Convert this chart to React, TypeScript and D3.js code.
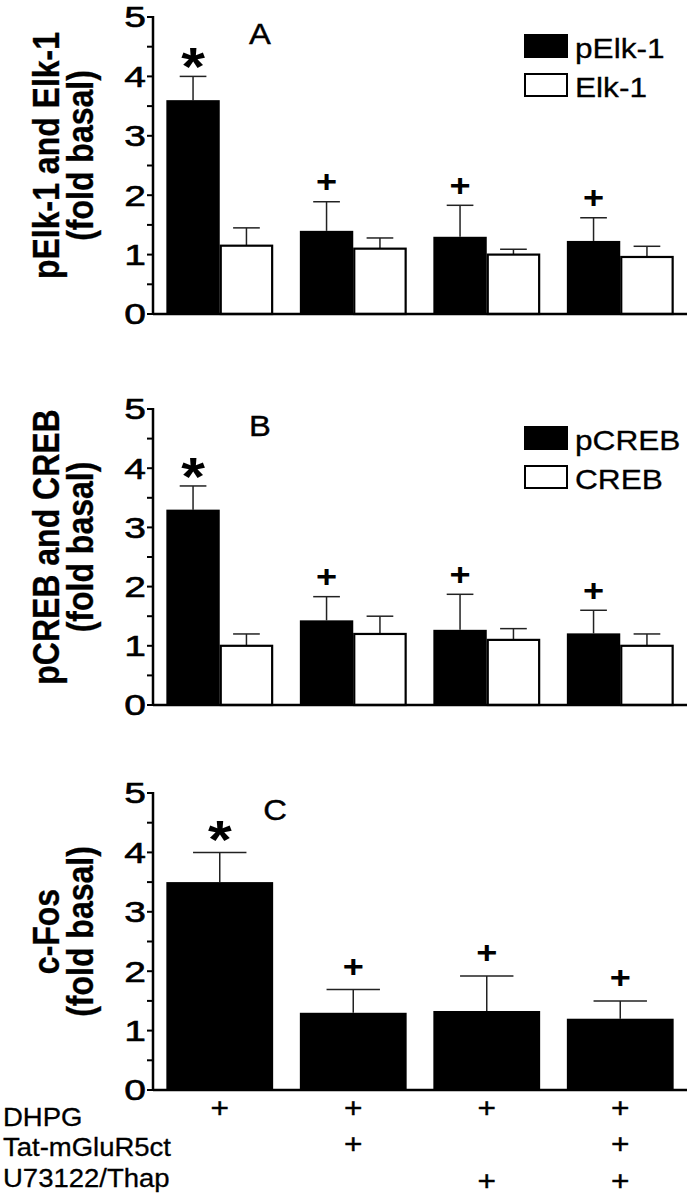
import * as d3 from "d3";

// groups along the x axis (treatment combinations)
const groups = ["g1", "g2", "g3", "g4"];

// panel A
const pElk = [3.6, 1.4, 1.3, 1.23];
const pElkErr = [0.4, 0.49, 0.53, 0.39];
const elk = [1.15, 1.1, 1.0, 0.96];
const elkErr = [0.3, 0.18, 0.09, 0.18];

// panel B
const pCreb = [3.3, 1.43, 1.27, 1.21];
const pCrebErr = [0.4, 0.4, 0.6, 0.39];
const creb = [1.0, 1.2, 1.1, 1.0];
const crebErr = [0.2, 0.3, 0.19, 0.2];

// panel C
const cFos = [3.5, 1.3, 1.33, 1.2];
const cFosErr = [0.5, 0.39, 0.59, 0.3];

const marks = ["*", "+", "+", "+"];

const treatments = ["DHPG", "Tat-mGluR5ct", "U73122/Thap"];
const treatmentOn = [
  [true, true, true, true],
  [false, true, false, true],
  [false, false, true, true],
];

const yTicks = d3.range(0, 5.01, 0.5);

const FONT = "'Liberation Sans', Arial, Helvetica, sans-serif";
const X0 = 153;
const X1 = 687;
const SX = 1.13;

const x = d3.scaleBand<string>().domain(groups).range([X0, X1]).paddingInner(0.2).paddingOuter(0.1);

type Series = { name: string; values: number[]; err: number[]; fill: string };

function Panel(props: {
  top: number;
  bottom: number;
  series: Series[];
  title: string[];
  letter: string;
  letterX: number;
  legend: boolean;
}) {
  const { top, bottom, series, title, letter, letterX, legend } = props;
  const y = d3.scaleLinear().domain([0, 5]).range([bottom, top]);
  const sub = d3.scaleBand<string>().domain(series.map((s) => s.name)).range([0, x.bandwidth()]);
  const bw = sub.bandwidth();
  const titleY = (top + bottom) / 2 - 10;

  return (
    <g>
      {/* y axis title */}
      {title.map((t, i) => (
        <text
          key={t}
          transform={`translate(${i === 0 ? 59 : 93},${titleY}) scale(${SX},1) rotate(-90)`}
          textAnchor="middle"
          fontSize={32}
          fontWeight="bold"
          fontFamily={FONT}
          stroke="black"
          strokeWidth={0.3}
        >
          {t}
        </text>
      ))}

      {/* bars */}
      {series.map((s) =>
        groups.map((g, i) => {
          const bx = (x(g) as number) + (sub(s.name) as number);
          const v = s.values[i];
          const top2 = y(v + s.err[i]);
          const cx = bx + bw / 2;
          return (
            <g key={s.name + g}>
              <line x1={cx} x2={cx} y1={y(v)} y2={top2} stroke="#222" strokeWidth={1.5} />
              <line x1={cx - bw / 4} x2={cx + bw / 4} y1={top2} y2={top2} stroke="#222" strokeWidth={1.5} />
              <rect
                x={bx + (s.fill === "white" ? 1 : 0)}
                y={y(v)}
                width={bw - (s.fill === "white" ? 2 : 0)}
                height={bottom - y(v)}
                fill={s.fill}
                stroke="black"
                strokeWidth={s.fill === "white" ? 2.2 : 0}
              />
            </g>
          );
        })
      )}

      {/* significance marks above first series */}
      {groups.map((g, i) => {
        const s = series[0];
        const cx = (x(g) as number) + (sub(s.name) as number) + bw / 2;
        const ty = y(s.values[i] + s.err[i]) - (series.length > 1 ? 21 : 24);
        const star = marks[i] === "*";
        return (
          <text
            key={"m" + g}
            transform={`translate(${cx},${star ? ty + 30 : ty}) scale(${SX},1)`}
            textAnchor="middle"
            dominantBaseline={star ? "auto" : "central"}
            fontSize={star ? 54 : 32}
            fontWeight="bold"
            fontFamily={FONT}
          >
            {marks[i]}
          </text>
        );
      })}

      {/* y axis */}
      <line x1={X0} x2={X0} y1={top - 1} y2={bottom + 1} stroke="black" strokeWidth={2.5} />
      {yTicks.map((t) => (
        <g key={t}>
          <line x1={X0 - 6} x2={X0} y1={y(t)} y2={y(t)} stroke="black" strokeWidth={2} />
          {Number.isInteger(t) && (
            <text
              transform={`translate(146,${y(t)}) scale(1.3,1)`}
              textAnchor="end"
              dominantBaseline="central"
              fontSize={30}
              fontFamily={FONT}
              stroke="black"
              strokeWidth={0.6}
            >
              {t}
            </text>
          )}
        </g>
      ))}
      {/* x axis */}
      <line x1={X0} x2={X1} y1={bottom} y2={bottom} stroke="black" strokeWidth={2.5} />

      {/* panel letter */}
      <text
        transform={`translate(${letterX},${top + 17}) scale(${SX},1)`}
        textAnchor="middle"
        dominantBaseline="central"
        fontSize={29}
        fontFamily={FONT}
        stroke="black"
        strokeWidth={0.4}
      >
        {letter}
      </text>

      {/* legend */}
      {legend &&
        series.map((s, i) => (
          <g key={"lg" + s.name} transform={`translate(524,${top + 17 + i * 39})`}>
            <rect x={1} y={1} width={42} height={22} fill={s.fill} stroke="black" strokeWidth={2} />
            <text
              transform={`translate(51,24) scale(${SX},1)`}
              fontSize={28}
              fontFamily={FONT}
              stroke="black"
              strokeWidth={0.3}
            >
              {s.name}
            </text>
          </g>
        ))}
    </g>
  );
}

export default function App() {
  const tableRows = [1107, 1143, 1180];
  const tableText = [1126, 1156, 1187];
  return (
    <svg
      width={694}
      height={1200}
      style={{ position: "absolute", left: 0, top: 0, background: "white" }}
    >
      <Panel
        top={17}
        bottom={314}
        series={[
          { name: "pElk-1", values: pElk, err: pElkErr, fill: "black" },
          { name: "Elk-1", values: elk, err: elkErr, fill: "white" },
        ]}
        title={["pElk-1 and Elk-1", "(fold basal)"]}
        letter="A"
        letterX={260}
        legend
      />
      <Panel
        top={409}
        bottom={705}
        series={[
          { name: "pCREB", values: pCreb, err: pCrebErr, fill: "black" },
          { name: "CREB", values: creb, err: crebErr, fill: "white" },
        ]}
        title={["pCREB and CREB", "(fold basal)"]}
        letter="B"
        letterX={260}
        legend
      />
      <Panel
        top={793}
        bottom={1090}
        series={[{ name: "c-Fos", values: cFos, err: cFosErr, fill: "black" }]}
        title={["c-Fos", "(fold basal)"]}
        letter="C"
        letterX={275}
        legend={false}
      />

      {/* treatment table */}
      {treatments.map((t, r) => (
        <g key={t}>
          <text
            transform={`translate(3,${tableText[r]}) scale(1.1,1)`}
            fontSize={25}
            fontFamily={FONT}
            stroke="black"
            strokeWidth={0.3}
          >
            {t}
          </text>
          {groups.map((g, i) =>
            treatmentOn[r][i] ? (
              <text
                key={g}
                transform={`translate(${(x(g) as number) + x.bandwidth() / 2},${tableRows[r]}) scale(${SX},1)`}
                textAnchor="middle"
                dominantBaseline="central"
                fontSize={28}
                fontFamily={FONT}
                stroke="black"
                strokeWidth={0.4}
              >
                +
              </text>
            ) : null
          )}
        </g>
      ))}
    </svg>
  );
}
